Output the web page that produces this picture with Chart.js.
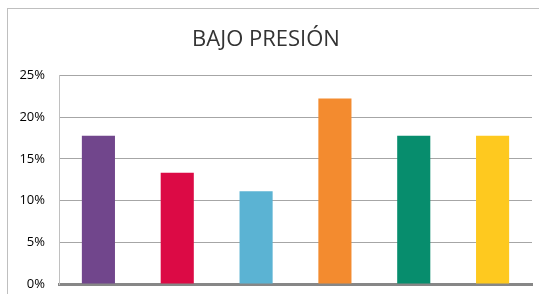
<!DOCTYPE html>
<html>
<head>
<meta charset="utf-8">
<script src="https://cdn.jsdelivr.net/npm/chart.js@4"></script>
<style>
  html, body { margin: 0; padding: 0; background: #fff; overflow: hidden; }
  #frame { position: absolute; left: 7px; top: 8px; width: 600px; height: 400px;
           border-left: 1px solid #bfbfbf; border-top: 1px solid #bfbfbf; }
  #wrap { position: absolute; left: 0; top: 0; width: 539px; height: 294px; }
</style>
</head>
<body>
<div id="frame"></div>
<div id="wrap"><canvas id="chart" width="539" height="294"></canvas></div>
<script>
// datos del gráfico
const categorias = ['A', 'B', 'C', 'D', 'E', 'F'];
const valores = [0.1778, 0.1333, 0.1111, 0.2222, 0.1778, 0.1778];
const colores = ['#71468c', '#dc0a45', '#5bb3d3', '#f38b2f', '#078d6d', '#fec91f'];
const ticksY = [0, 0.05, 0.10, 0.15, 0.20, 0.25];

const ctx = document.getElementById('chart').getContext('2d');
const chart = new Chart(ctx, {
    type: 'bar',
    data: {
        labels: categorias,
        datasets: [{
            data: valores,
            backgroundColor: colores,
            borderWidth: 0,
            barPercentage: 0.42,
            categoryPercentage: 1
        }]
    },
    options: {
        responsive: false,
        animation: false,
        layout: { padding: { left: 0, right: 7, top: 0, bottom: 10 } },
        plugins: {
            legend: { display: false },
            tooltip: { enabled: false },
            title: {
                display: true,
                text: 'BAJO PRESIÓN',
                color: '#333333',
                font: { family: 'Open Sans', size: 22, weight: 'normal' },
                padding: { top: 27, bottom: 22 }
            }
        },
        scales: {
            x: {
                ticks: { display: false },
                grid: { display: false },
                border: { color: '#878787', width: 3 },
                afterFit: (axis) => { axis.height = 0; }
            },
            y: {
                min: 0,
                max: 0.25,
                afterBuildTicks: (axis) => { axis.ticks = ticksY.map(v => ({ value: v })); },
                ticks: {
                    color: '#000000',
                    font: { family: 'Open Sans', size: 13, lineHeight: 1 },
                    padding: 14,
                    callback: (v) => Math.round(v * 100) + '%'
                },
                grid: { color: '#a6a6a6', lineWidth: 1, drawTicks: false },
                border: { color: '#c0c0c0', width: 1 },
                afterFit: (axis) => { axis.width = 59; axis.paddingBottom = 0; axis.paddingTop = 0; }
            }
        }
    }
});
</script>
</body>
</html>
